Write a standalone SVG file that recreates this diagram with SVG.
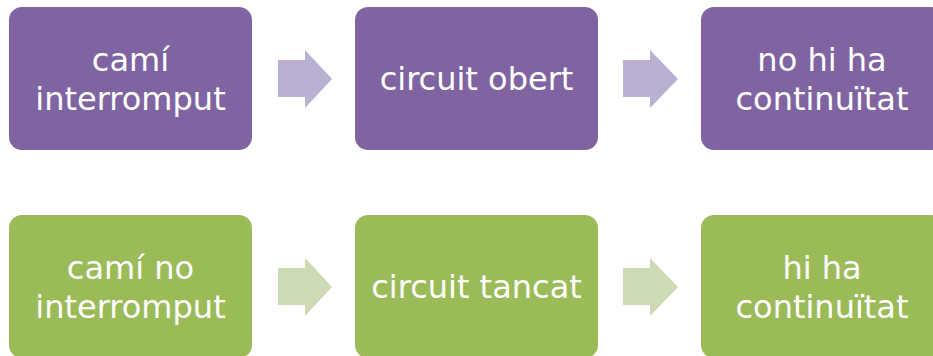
<svg xmlns="http://www.w3.org/2000/svg" width="933" height="356" viewBox="0 0 933 356">
<style>
.p{fill:#8064A2}
.g{fill:#9BBB59}
.pa{fill:#BCB0D2}
.ga{fill:#CDDAB6}
text{fill:#FFFFFF;font-family:"DejaVu Sans",sans-serif;font-size:32px;text-anchor:middle}
</style>
<rect width="933" height="356" fill="#FFFFFF"/>
<g id="connectors">
<polygon class="pa" points="278,60 305,60 305,50 332,79 305,108 305,97 278,97"/>
<polygon class="pa" points="623,60 650,60 650,50 678,79 650,108 650,97 623,97"/>
<polygon class="ga" points="278,268 305,268 305,258 332,287 305,316 305,305 278,305"/>
<polygon class="ga" points="623,268 650,268 650,258 678,287 650,316 650,305 623,305"/>
</g>
<g id="n1"><rect class="p" x="9" y="7" width="243" height="143" rx="13"/><text x="130.5" y="71">camí</text><text x="130.5" y="110">interromput</text></g>
<g id="n2"><rect class="p" x="355" y="7" width="243" height="143" rx="13"/><text x="476.5" y="90">circuit obert</text></g>
<g id="n3"><rect class="p" x="701" y="7" width="243" height="143" rx="13"/><text x="822" y="71">no hi ha</text><text x="822" y="110">continuïtat</text></g>
<g id="n4"><rect class="g" x="9" y="215" width="243" height="143" rx="13"/><text x="130.5" y="279">camí no</text><text x="130.5" y="318">interromput</text></g>
<g id="n5"><rect class="g" x="355" y="215" width="243" height="143" rx="13"/><text x="476.5" y="298">circuit tancat</text></g>
<g id="n6"><rect class="g" x="701" y="215" width="243" height="143" rx="13"/><text x="822" y="279">hi ha</text><text x="822" y="318">continuïtat</text></g>
</svg>
